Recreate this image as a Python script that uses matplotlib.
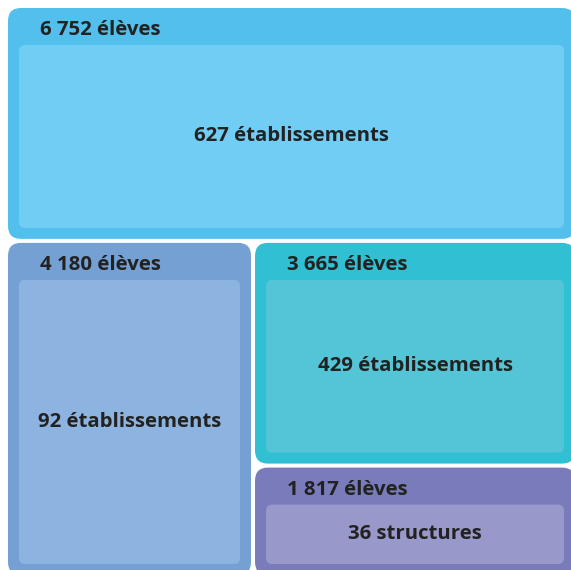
import matplotlib
matplotlib.use("Agg")
import matplotlib.pyplot as plt
from matplotlib.patches import FancyBboxPatch

# Data
eleves = [6752, 4180, 3665, 1817]
header_labels = ["6 752 élèves", "4 180 élèves", "3 665 élèves", "1 817 élèves"]
inner_labels = ["627 établissements", "92 établissements", "429 établissements", "36 structures"]
outer_colors = ["#52BFEC", "#74A0D4", "#31BFD3", "#7A7BBB"]
inner_colors = ["#72CDF4", "#8DB4E0", "#54C5D7", "#9898CA"]

W, H = 571, 570
fig = plt.figure(figsize=(W / 100, H / 100), dpi=100)
ax = fig.add_axes([0, 0, 1, 1])
ax.set_xlim(0, W)
ax.set_ylim(H, 0)
ax.axis("off")

# treemap layout (slice: top row, then left column, then right stack)
x0, y0, x1, y1 = 6, 6, 577, 577
total = sum(eleves)
rects = []
ytop = y0 + (y1 - y0) * eleves[0] / total
rects.append((x0, y0, x1, ytop))
rest = sum(eleves[1:])
xl = x0 + (x1 - x0) * eleves[1] / rest
rects.append((x0, ytop, xl, y1))
ymid = ytop + (y1 - ytop) * eleves[2] / (eleves[2] + eleves[3])
rects.append((xl, ytop, x1, ymid))
rects.append((xl, ymid, x1, y1))

gap = 2
pad = 11
header = 37
font = dict(family=["Open Sans", "DejaVu Sans"], weight="bold", color="#222222")
for (a, b, c, d), oc, ic, hl, il in zip(rects, outer_colors, inner_colors, header_labels, inner_labels):
    a, b, c, d = a + gap, b + gap, c - gap, d - gap
    ax.add_patch(FancyBboxPatch((a, b), c - a, d - b,
                                boxstyle="round,pad=0,rounding_size=13",
                                fc=oc, ec="none"))
    ia, ib, ic_, id_ = a + pad, b + header, c - pad, d - pad
    ax.add_patch(FancyBboxPatch((ia, ib), ic_ - ia, id_ - ib,
                                boxstyle="round,pad=0,rounding_size=6",
                                fc=ic, ec="none"))
    ax.text(a + 32, b + 22, hl, ha="left", va="center", fontsize=14.7, **font)
    ax.text((ia + ic_) / 2, (ib + id_) / 2, il, ha="center", va="center", fontsize=14.7, **font)

fig.savefig("out.png", dpi=100)
